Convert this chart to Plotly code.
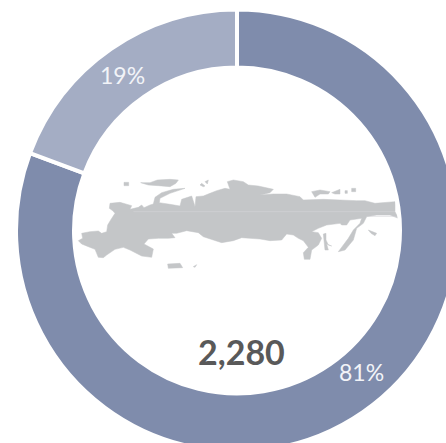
import plotly.graph_objects as go

categories = ["A", "B"]
values = [1840, 440]
colors = ["#7f8cac", "#a4adc4"]
total_label = "2,280"
share_labels = ["81%", "19%"]

main_land = [(25,212),(38,205),(35,190),(60,185),(85,183),(95,190),(110,185),(113,165),(122,150),(135,130),(128,122),(118,115),(120,100),(150,97),(185,107),(180,118),(205,112),(215,105),(222,113),(240,105),(250,102),(255,82),(275,68),(310,58),(345,55),(300,70),(270,85),(268,98),(300,103),(330,108),(335,88),(365,78),(372,100),(375,110),(378,80),(400,78),(420,70),(440,62),(465,55),(480,58),(472,35),(490,30),(520,35),(535,45),(565,48),(610,58),(600,68),(570,75),(610,72),(650,72),(690,80),(700,90),(760,88),(860,92),(885,92),(915,100),(975,95),(975,125),(985,145),(960,135),(920,135),(890,140),(880,160),(860,175),(850,210),(825,240),(805,245),(820,225),(835,205),(850,180),(870,160),(875,145),(840,150),(830,165),(815,165),(810,160),(770,165),(745,175),(725,185),(745,188),(755,205),(745,225),(725,240),(720,268),(703,268),(700,248),(715,232),(700,212),(685,205),(670,195),(650,192),(635,210),(600,212),(570,207),(540,205),(515,203),(490,212),(455,218),(430,210),(400,200),(385,188),(350,182),(320,190),(305,190),(315,203),(295,205),(265,205),(235,207),(222,222),(250,237),(245,262),(215,258),(180,240),(160,232),(135,238),(110,255),(100,263),(85,262),(75,238),(55,230),(35,222)]
islands = [
    [(212,38),(240,38),(262,30),(300,28),(325,30),(318,40),(300,50),(265,47),(235,45)],
    [(162,37),(176,37),(176,47),(162,47)],
    [(390,45),(395,40),(405,48),(400,50)],
    [(405,35),(415,30),(412,42)],
    [(725,65),(750,60),(780,65),(775,72),(750,72),(735,82)],
    [(785,68),(810,58),(810,72),(795,72)],
    [(825,62),(832,62),(832,70),(825,70)],
    [(845,55),(857,55),(857,65),(845,65)],
    [(293,282),(330,280),(338,293),(295,295)],
    [(370,290),(380,284),(375,292)],
    [(760,192),(768,190),(768,210),(775,225),(785,228),(770,222),(775,240),(765,240)],
    [(895,180),(920,190),(915,197),(903,190)],
]
seams = [[(190,125),(975,125)], [(890,139),(980,139)]]
W, H = 470, 460
cx, cy, r = 237, 230.5, 221

def closed(poly):
    xs, ys = [], []
    for a, b in poly + poly[:1]:
        xs.append(a); ys.append(b)
    return xs, ys

fig = go.Figure()
for poly in [main_land] + islands:
    xs, ys = closed(poly)
    fig.add_trace(go.Scatter(x=xs, y=ys, mode="lines", fill="toself", fillcolor="#c4c6c8",
                             line=dict(color="#c4c6c8", width=0.5, simplify=False), hoverinfo="skip", showlegend=False))
for seam in seams:
    fig.add_trace(go.Scatter(x=[p[0] for p in seam], y=[p[1] for p in seam], mode="lines",
                             line=dict(color="#d3d4d6", width=0.6), hoverinfo="skip", showlegend=False))
fig.add_trace(go.Pie(labels=categories, values=values, hole=0.7375, sort=False, direction="clockwise",
                     rotation=0, marker=dict(colors=colors, line=dict(color="white", width=4)),
                     textinfo="none", showlegend=False,
                     domain=dict(x=[(cx-r)/W, (cx+r)/W], y=[1-(cy+r)/H, 1-(cy-r)/H])))
font = "Lato, sans-serif"
def ann(text, px, py, size, color, bold=False):
    return dict(text=f"<b>{text}</b>" if bold else text, x=px/W, y=1-py/H, xref="paper", yref="paper",
                showarrow=False, xanchor="center", yanchor="middle", font=dict(family=font, size=size, color=color))
fig.update_layout(
    width=W, height=H, margin=dict(l=0, r=0, t=0, b=0), paper_bgcolor="white", plot_bgcolor="white",
    xaxis=dict(visible=False, range=[-210, -210+3*W]),
    yaxis=dict(visible=False, range=[-510+3*H, -510]),
    annotations=[ann(share_labels[0], 361, 372, 23, "#f2f4f8"), ann(share_labels[1], 122, 75, 23, "#f2f4f8"),
                 ann(total_label, 241, 351, 34, "#595959", True)],
)
fig.write_html("out.html", config=dict(displayModeBar=False),
               post_script="document.body.style.margin='0';document.body.style.overflow='hidden';document.documentElement.style.overflow='hidden';")
